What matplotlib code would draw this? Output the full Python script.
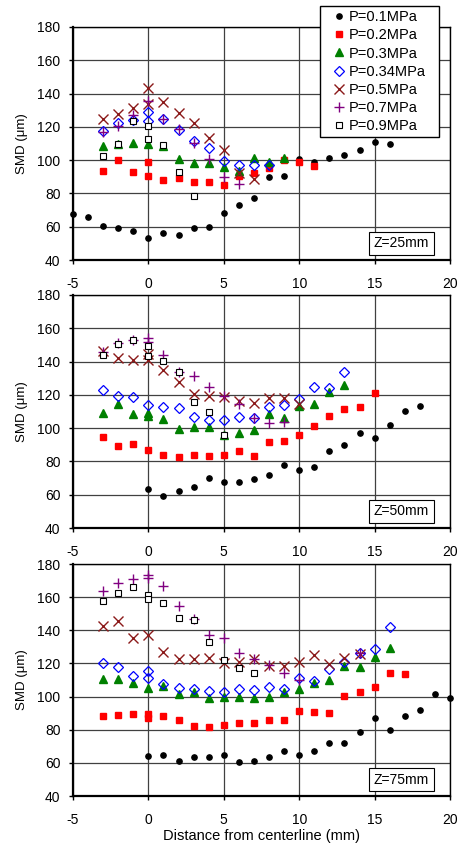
import matplotlib

matplotlib.use("Agg")
import matplotlib.pyplot as plt

plt.rcParams["font.family"] = ["Liberation Sans", "DejaVu Sans"]
plt.rcParams["axes.unicode_minus"] = False

LABELS = ["P=0.1MPa", "P=0.2MPa", "P=0.3MPa", "P=0.34MPa", "P=0.5MPa", "P=0.7MPa", "P=0.9MPa"]
PANEL_NAMES = ["Z=25mm", "Z=50mm", "Z=75mm"]

# Z = 25 mm
X25_01 = [-5, -4, -3, -2, -1, 0, 1, 2, 3, 4, 5, 6, 7, 8, 9, 10, 11, 12, 13, 14, 15, 16]
Y25_01 = [67.4, 65.8, 60.4, 59, 57.4, 53, 56.2, 55, 59, 59.6, 68, 73, 77.4, 89.8, 90.2, 100.8, 99, 101.4, 103, 105.8, 110.8, 109.8]
X25_02 = [-3, -2, -1, 0, 0, 1, 2, 3, 4, 5, 6, 7, 8, 9, 10, 11]
Y25_02 = [93.4, 100.2, 93, 98.6, 90.2, 88, 89, 86.8, 86.8, 85.2, 90.4, 92.4, 95.4, 100, 98.6, 96.4]
X25_03 = [-3, -2, -1, 0, 1, 2, 3, 4, 5, 6, 7, 8, 9]
Y25_03 = [108.4, 109.8, 110.4, 109.8, 108.4, 100.4, 98, 98, 96, 93.4, 101.2, 98.8, 101.4]
X25_034 = [-3, -2, -1, 0, 0, 1, 2, 3, 4, 5, 6, 7, 8]
Y25_034 = [117.8, 122.4, 124.4, 129, 123.6, 124.8, 118, 111.8, 107.4, 99.6, 97.2, 97.2, 97]
X25_05 = [-3, -2, -1, 0, 0, 1, 2, 3, 4, 5, 6, 7]
Y25_05 = [124.8, 127.8, 131.4, 143.6, 134, 135.2, 128.4, 122.2, 113.4, 106.2, 92.2, 88.6]
X25_07 = [-3, -2, -1, 0, 1, 2, 3, 4, 5, 6]
Y25_07 = [116.8, 120.4, 127, 135.4, 124.8, 119, 110.4, 100.4, 90, 85.4]
X25_09 = [-3, -2, -1, 0, 0, 1, 2, 3]
Y25_09 = [102.6, 109.8, 123.6, 120.6, 112.6, 108.8, 92.6, 78.6]

# Z = 50 mm
X50_01 = [0, 1, 2, 3, 4, 5, 6, 7, 8, 9, 10, 11, 12, 13, 14, 15, 16, 17, 18]
Y50_01 = [63.4, 59.4, 62.4, 64.6, 70.2, 67.6, 67.6, 69.6, 71.8, 78, 74.6, 76.8, 86.2, 89.6, 96.8, 94, 101.8, 110.2, 113.6]
X50_02 = [-3, -2, -1, 0, 1, 2, 3, 4, 5, 6, 7, 8, 9, 10, 11, 12, 13, 14, 15]
Y50_02 = [94.8, 89, 90.2, 86.6, 83.6, 82.4, 83.6, 83, 83.6, 86.2, 83, 91.4, 92.4, 95.8, 101.4, 107, 111.4, 113, 121.4]
X50_03 = [-3, -2, -1, 0, 0, 1, 2, 3, 4, 5, 6, 7, 8, 9, 10, 11, 12, 13]
Y50_03 = [108.8, 114.6, 108.2, 107.4, 109, 105.6, 99.4, 100.6, 100.6, 96, 97.2, 98.6, 108.2, 105.8, 113.6, 114.4, 121.6, 126]
X50_034 = [-3, -2, -1, 0, 1, 2, 3, 4, 5, 6, 7, 8, 9, 10, 11, 12, 13]
Y50_034 = [123, 119.6, 119, 114, 113, 112, 106.8, 104.6, 105, 106.4, 106, 113, 114, 117.4, 125, 124, 133.6]
X50_05 = [-3, -2, -1, 0, 0, 1, 2, 3, 4, 5, 6, 7, 8, 9, 10]
Y50_05 = [146.6, 142.4, 141, 144.6, 141, 135, 127.8, 120.4, 119.4, 119, 116.6, 115, 118, 118.4, 114.6]
X50_07 = [-3, -2, -1, 0, 0, 1, 2, 3, 4, 5, 6, 7, 8, 9]
Y50_07 = [145.6, 151.4, 153, 154, 152, 144.2, 133.6, 131.4, 124.6, 119.4, 114.6, 106.2, 103, 103.4]
X50_09 = [-3, -2, -1, 0, 0, 1, 2, 3, 4, 5]
Y50_09 = [144.2, 150.6, 152.8, 149.4, 143.6, 140.4, 133.6, 115.8, 109.8, 96]

# Z = 75 mm
X75_01 = [0, 1, 2, 3, 4, 5, 6, 7, 8, 9, 10, 11, 12, 13, 14, 15, 16, 17, 18, 19, 20]
Y75_01 = [64, 65, 61.2, 63.6, 63.6, 65, 60.8, 61.2, 63.6, 67.4, 64.6, 67.4, 71.9, 71.9, 78.7, 87.2, 79.7, 88.2, 91.6, 101.3, 98.9]
X75_02 = [-3, -2, -1, 0, 0, 1, 2, 3, 4, 5, 6, 7, 8, 9, 10, 11, 12, 13, 14, 15, 16, 17]
Y75_02 = [88.2, 88.6, 89.2, 89.2, 87.2, 88.2, 86, 82, 81.5, 82.6, 83.8, 83.8, 86, 86, 91, 90.4, 89.8, 100.5, 102.9, 105.6, 114, 113.6]
X75_03 = [-3, -2, -1, 0, 1, 2, 3, 4, 5, 6, 7, 8, 9, 10, 11, 12, 13, 14, 15, 16]
Y75_03 = [110.6, 110.6, 108, 105, 106.6, 101.5, 102.5, 98.9, 99.7, 99.5, 98.9, 99.9, 102.5, 104.5, 108, 110.2, 118.3, 117.9, 123.7, 129.2]
X75_034 = [-3, -2, -1, 0, 0, 1, 2, 3, 4, 5, 6, 7, 8, 9, 10, 11, 12, 13, 14, 15, 16]
Y75_034 = [120.1, 118.1, 112.2, 115.6, 111.4, 107.4, 105, 104.6, 103.3, 102.7, 104.6, 104, 106, 104.6, 111, 109.4, 116.5, 120.7, 126, 129, 142.1]
X75_05 = [-3, -2, -1, 0, 1, 2, 3, 4, 5, 6, 7, 8, 9, 10, 11, 12, 13, 14]
Y75_05 = [142.3, 145.7, 135.6, 137.2, 127.1, 122.5, 122.5, 123.1, 120.5, 121.1, 122.5, 118.7, 118.5, 120.7, 125.1, 119.7, 123.1, 125.7]
X75_07 = [-3, -2, -1, 0, 0, 1, 2, 3, 4, 5, 6, 7, 8, 9, 10, 14]
Y75_07 = [163.5, 168.3, 170.9, 173.1, 171.5, 166.9, 154.8, 146.9, 137.2, 135.6, 126.5, 122.5, 118.9, 114.4, 110, 126.1]
X75_09 = [-3, -2, -1, 0, 0, 1, 2, 3, 4, 5, 6, 7]
Y75_09 = [157.4, 162.2, 165.9, 161.4, 158.8, 156.2, 147.3, 146.1, 133.2, 122.1, 117.1, 114.4]

PANELS = [
    [(X25_01, Y25_01), (X25_02, Y25_02), (X25_03, Y25_03), (X25_034, Y25_034),
     (X25_05, Y25_05), (X25_07, Y25_07), (X25_09, Y25_09)],
    [(X50_01, Y50_01), (X50_02, Y50_02), (X50_03, Y50_03), (X50_034, Y50_034),
     (X50_05, Y50_05), (X50_07, Y50_07), (X50_09, Y50_09)],
    [(X75_01, Y75_01), (X75_02, Y75_02), (X75_03, Y75_03), (X75_034, Y75_034),
     (X75_05, Y75_05), (X75_07, Y75_07), (X75_09, Y75_09)],
]

STYLES = [
    dict(marker="o", ms=3.8, color="black", mec="black"),
    dict(marker="s", ms=4.3, color="#ff0000", mec="#ff0000"),
    dict(marker="^", ms=6.0, color="#008000", mec="#008000"),
    dict(marker="D", ms=4.6, color="#0000ff", mfc="none", mec="#0000ff", mew=0.9),
    dict(marker="x", ms=6.5, color="#8b1a1a", mew=1.0),
    dict(marker="+", ms=7.0, color="#800080", mew=1.0),
    dict(marker="s", ms=4.0, color="black", mfc="white", mec="black", mew=0.8),
]

W, H = 461, 848
fig = plt.figure(figsize=(W / 100, H / 100), dpi=100)

tops = [27, 295, 564]
bottoms = [260, 528, 796]
left, right = 73, 450

handles = []
for i, series in enumerate(PANELS):
    ax = fig.add_axes([left / W, 1 - bottoms[i] / H, (right - left) / W, (bottoms[i] - tops[i]) / H])
    for (xs, ys), st in zip(series, STYLES):
        h, = ax.plot(xs, ys, linestyle="none", zorder=3, clip_on=False, **st)
        if i == 0:
            handles.append(h)
    ax.set_xlim(-5, 20)
    ax.set_ylim(40, 180)
    ax.set_xticks(range(-5, 21, 5))
    ax.set_yticks(range(40, 181, 20))
    ax.grid(True, color="0.25", lw=0.9)
    ax.set_axisbelow(True)
    for sp in ax.spines.values():
        sp.set_linewidth(1.0)
        sp.set_color("black")
    ax.spines["left"].set_linewidth(1.6)
    ax.spines["bottom"].set_linewidth(1.6)
    ax.tick_params(direction="out", length=3, width=1, labelsize=10, colors="black")
    ax.tick_params(axis="y", pad=6)
    ax.tick_params(axis="x", pad=9)
    ax.set_ylabel("SMD (μm)", fontsize=9.5, labelpad=7)
    ax.text(0.871, 0.071, PANEL_NAMES[i], transform=ax.transAxes, ha="center", va="center", fontsize=10,
            bbox=dict(boxstyle="square,pad=0.35", fc="white", ec="black", lw=0.8), zorder=5)
    if i == 2:
        ax.set_xlabel("Distance from centerline (mm)", fontsize=10.5, labelpad=2)

fig.legend(handles, LABELS, loc="upper left", bbox_to_anchor=(320 / W, 1 - 136 / H, 119 / W, 130 / H),
           mode="expand", fontsize=10.5, frameon=True, fancybox=False, edgecolor="black", framealpha=1,
           borderpad=0.3, labelspacing=0.28, handlelength=2.0, handletextpad=-0.3, borderaxespad=0)

fig.savefig("out.png", dpi=100)
